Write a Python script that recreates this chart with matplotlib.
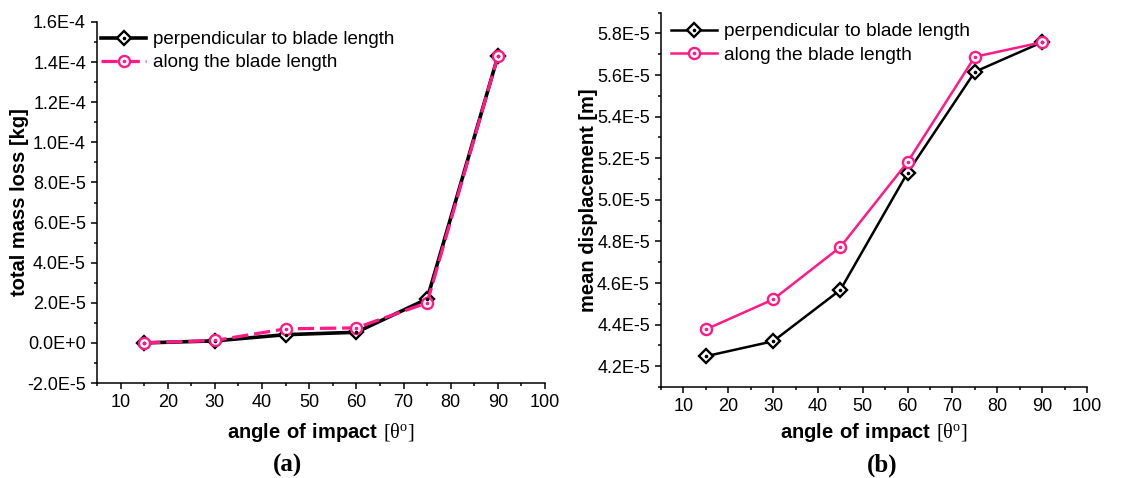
import matplotlib
matplotlib.use("Agg")
import matplotlib.pyplot as plt
from matplotlib.ticker import MultipleLocator, FuncFormatter

# data
angles = [15, 30, 45, 60, 75, 90]
mass_perp = [0.0, 1.0e-6, 4.1e-6, 5.3e-6, 2.19e-5, 1.429e-4]
mass_along = [0.0, 1.2e-6, 7.0e-6, 7.5e-6, 2.0e-5, 1.429e-4]
disp_perp = [4.248e-5, 4.320e-5, 4.567e-5, 5.131e-5, 5.616e-5, 5.758e-5]
disp_along = [4.377e-5, 4.521e-5, 4.773e-5, 5.182e-5, 5.688e-5, 5.758e-5]
label_perp = "perpendicular to blade length"
label_along = "along the blade length"

PINK = "#ff1a85"

plt.rcParams["font.family"] = ["Liberation Sans", "DejaVu Sans"]
plt.rcParams["mathtext.fontset"] = "custom"
plt.rcParams["mathtext.rm"] = "Liberation Serif"
plt.rcParams["mathtext.bf"] = "Liberation Sans:bold"


def sci(v, pos):
    if abs(v) < 1e-12:
        return "0.0E+0"
    s = "%.1E" % v
    m, e = s.split("E")
    return m + "E" + str(int(e)).replace("+", "")


fig = plt.figure(figsize=(11.48, 4.78), dpi=100)
axa = fig.add_axes([97 / 1148, 1 - 383 / 478, (545 - 97) / 1148, (383 - 22) / 478])
axb = fig.add_axes([661 / 1148, 1 - 387 / 478, (1087 - 661) / 1148, (387 - 12.7) / 478])


def draw(ax, yp, ya, lw, dashed):
    ls2 = (0, (5, 1.8)) if dashed else "-"
    l1, = ax.plot(angles, yp, color="black", lw=lw, marker="D", ms=7.2,
                  mfc="white", mec="black", mew=1.7, zorder=3)
    d1, = ax.plot(angles, yp, ls="none", marker="o", ms=1.6, color="black", zorder=4)
    l2, = ax.plot(angles, ya, color=PINK, lw=lw * (0.9 if dashed else 1), ls=ls2,
                  marker="o", ms=8, mfc="white", mec=PINK, mew=1.7, zorder=3)
    d2, = ax.plot(angles, ya, ls="none", marker="o", ms=1.6, color=PINK, zorder=4)
    for s in ["top", "right"]:
        ax.spines[s].set_visible(False)
    for s in ["left", "bottom"]:
        ax.spines[s].set_linewidth(1.1)
    ax.set_xlim(5, 100)
    ax.xaxis.set_major_locator(MultipleLocator(10))
    ax.xaxis.set_minor_locator(MultipleLocator(5))
    ax.tick_params(which="major", length=4, width=1.1, labelsize=13, pad=4)
    ax.tick_params(which="minor", length=2.5, width=1.1)
    ax.yaxis.set_major_formatter(FuncFormatter(sci))
    ax.set_xlabel(r"$\mathbf{angle\ of\ impact}\ \mathrm{[θ^{o}]}$", fontsize=14.5, va="center")
    return (l1, d1), (l2, d2)


ha, hb = draw(axa, mass_perp, mass_along, 2.6, True)
axa.set_ylim(-2e-5, 1.6e-4)
axa.yaxis.set_major_locator(MultipleLocator(2e-5))
axa.yaxis.set_minor_locator(MultipleLocator(1e-5))
axa.set_ylabel("total mass loss [kg]", fontsize=14.5, fontweight="bold", va="center")
axa.xaxis.set_label_coords(0.5, -(432 - 383) / 361)
axa.yaxis.set_label_coords(-(97 - 20) / 448, 0.5)
axa.legend([ha, hb], [label_perp, label_along], loc="upper left", frameon=False,
           bbox_to_anchor=(101 / 1148, 1 - 31 / 478), bbox_transform=fig.transFigure,
           borderpad=0, borderaxespad=0, fontsize=13.5, handlelength=2.4,
           handletextpad=0.35, labelspacing=0.32)

hc, hd = draw(axb, disp_perp, disp_along, 1.8, False)
axb.set_ylim(4.1e-5, 5.9e-5)
axb.yaxis.set_major_locator(MultipleLocator(2e-6))
axb.yaxis.set_minor_locator(MultipleLocator(1e-6))
axb.set_ylabel("mean displacement [m]", fontsize=14.5, fontweight="bold", va="center")
axb.xaxis.set_label_coords(0.5, -(432 - 387) / 374.3)
axb.yaxis.set_label_coords(-(661 - 588) / 426, 0.5)
axb.legend([hc, hd], [label_perp, label_along], loc="upper left", frameon=False,
           bbox_to_anchor=(671 / 1148, 1 - 23 / 478), bbox_transform=fig.transFigure,
           borderpad=0, borderaxespad=0, fontsize=13.8, handlelength=2.4,
           handletextpad=0.35, labelspacing=0.3)

fig.text(288 / 1148, 1 - 465 / 478, "(a)", family="Liberation Serif", fontweight="bold",
         fontsize=18, ha="center", va="center")
fig.text(882 / 1148, 1 - 465 / 478, "(b)", family="Liberation Serif", fontweight="bold",
         fontsize=18, ha="center", va="center")

fig.savefig("out.png", dpi=100)
